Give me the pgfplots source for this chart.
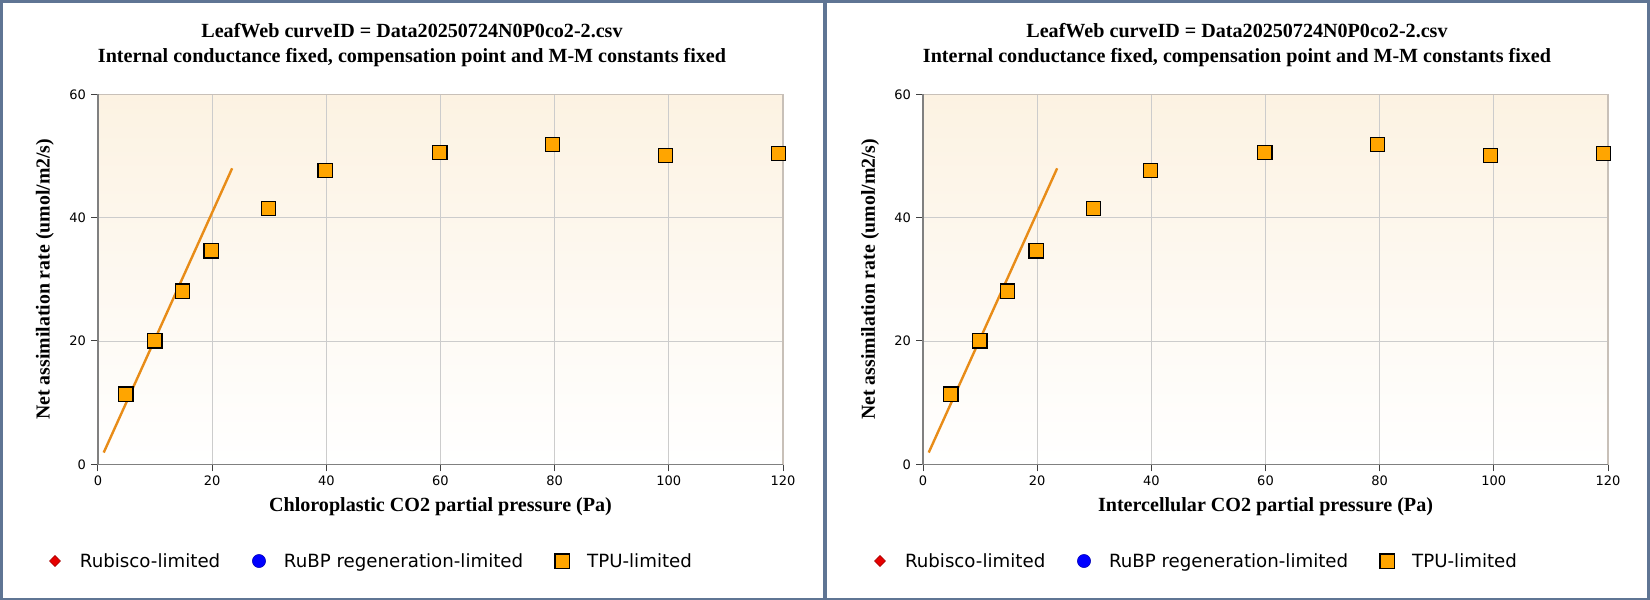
\documentclass[border=0pt]{standalone}
\usepackage{fontspec}
\setmainfont{Liberation Serif}
\newfontfamily\sansf{DejaVu Sans}
\usepackage{pgfplots}
\pgfplotsset{compat=1.18}
\definecolor{framec}{RGB}{95,117,148}
\definecolor{bgtop}{RGB}{252,242,226}
\definecolor{gridc}{RGB}{204,204,204}
\definecolor{axlb}{RGB}{128,128,128}
\definecolor{axtr}{RGB}{200,192,184}
\definecolor{tpu}{RGB}{255,165,0}
\definecolor{fitc}{RGB}{232,140,24}
\definecolor{rubc}{RGB}{230,0,0}
\definecolor{rubpc}{RGB}{0,0,255}

\pgfplotstableread{
x y
4.9 11.4
9.96 20.0
14.85 28.1
19.8 34.6
29.9 41.5
39.8 47.6
59.9 50.6
79.6 51.9
99.4 50.1
119.2 50.4
}\tpudata

\pgfplotstableread{
x y
1.0 1.9
23.5 48.0
}\fitdata

\pgfplotsset{leafweb/.style={
  scale only axis, width=685pt, height=370pt,
  anchor=south west,
  xmin=0, xmax=120, ymin=0, ymax=60,
  xtick={0,20,...,120}, ytick={0,20,40,60},
  grid=major, grid style={color=gridc, line width=0.8pt},
  axis line style={color=axtr, line width=1.3pt},
  tick pos=left, tick align=outside, major tick length=7pt,
  tick style={color=black!75, line width=1pt},
  axis background/.style={top color=bgtop, bottom color=white},
  clip=false,
  /pgf/number format/assume math mode=true,
  ticklabel style={font=\sansf\fontsize{13}{15}\selectfont, inner sep=0pt},
  xticklabel style={yshift=-4pt},
  yticklabel style={xshift=-5pt},
  title style={at={(axis description cs:0.4584,1.117)}, anchor=center, align=center,
    font=\bfseries\fontsize{20.1}{24.5}\selectfont, inner sep=0pt},
  xlabel style={at={(axis description cs:0.5,-0.1154)}, anchor=center,
    font=\bfseries\fontsize{20.1}{24}\selectfont, inner sep=0pt},
  ylabel style={at={(axis description cs:-0.0774,0.5)}, anchor=center,
    font=\bfseries\fontsize{19.8}{24}\selectfont, inner sep=0pt},
  legend image code/.code={\path[draw=none,fill=none] (-7pt,-7pt) rectangle (7pt,7pt); \draw[#1] plot coordinates {(0pt,0pt)};},
  legend style={at={(axis description cs:-0.0730,-0.2614)}, anchor=west,
    draw=none, fill=none, inner sep=0pt, outer sep=0pt,
    font=\sansf\fontsize{18.2}{21}\selectfont,
    nodes={inner sep=0pt, outer sep=0pt},
    /tikz/every odd column/.append style={column sep=18pt}},
  legend columns=-1,
  after end axis/.code={\draw[axlb, line width=1.3pt] (axis description cs:0,1) -- (axis description cs:0,0) -- (axis description cs:1,0);},
}}

\begin{document}
\begin{tikzpicture}
\useasboundingbox (0pt,0pt) rectangle (1650pt,600pt);
\fill[framec] (0pt,0pt) rectangle (1650pt,600pt);
\fill[white] (2.5pt,2.3pt) rectangle (822.7pt,597.3pt);
\fill[white] (826.7pt,2.3pt) rectangle (1647pt,597.3pt);

\begin{axis}[leafweb, at={(98pt,135.7pt)},
  title={LeafWeb curveID = Data20250724N0P0co2-2.csv\\Internal conductance fixed, compensation point and M-M constants fixed},
  xlabel={Chloroplastic CO2 partial pressure (Pa)},
  ylabel={Net assimilation rate (umol/m2/s)}]
\addlegendimage{only marks, mark=diamond*, mark size=5.6pt, color=rubc, mark options={draw=rubc!70!black, line width=0.5pt, xscale=1.3}}
\addlegendentry{\makebox[172pt][l]{Rubisco-limited}}
\addlegendimage{only marks, mark=*, mark size=6.6pt, color=rubpc, mark options={draw=rubpc!70!black, line width=0.5pt}}
\addlegendentry{\makebox[271pt][l]{RuBP regeneration-limited}}
\addplot[forget plot, color=fitc, line width=2.4pt] table[x=x,y=y] {\fitdata};
\addplot[only marks, mark=square*, mark size=7.1pt, mark options={fill=tpu, draw=black, line width=1.2pt}] table[x=x,y=y] {\tpudata};
\addlegendentry{TPU-limited}
\end{axis}

\begin{axis}[leafweb, at={(923pt,135.7pt)},
  title={LeafWeb curveID = Data20250724N0P0co2-2.csv\\Internal conductance fixed, compensation point and M-M constants fixed},
  xlabel={Intercellular CO2 partial pressure (Pa)},
  ylabel={Net assimilation rate (umol/m2/s)}]
\addlegendimage{only marks, mark=diamond*, mark size=5.6pt, color=rubc, mark options={draw=rubc!70!black, line width=0.5pt, xscale=1.3}}
\addlegendentry{\makebox[172pt][l]{Rubisco-limited}}
\addlegendimage{only marks, mark=*, mark size=6.6pt, color=rubpc, mark options={draw=rubpc!70!black, line width=0.5pt}}
\addlegendentry{\makebox[271pt][l]{RuBP regeneration-limited}}
\addplot[forget plot, color=fitc, line width=2.4pt] table[x=x,y=y] {\fitdata};
\addplot[only marks, mark=square*, mark size=7.1pt, mark options={fill=tpu, draw=black, line width=1.2pt}] table[x=x,y=y] {\tpudata};
\addlegendentry{TPU-limited}
\end{axis}
\end{tikzpicture}
\end{document}
